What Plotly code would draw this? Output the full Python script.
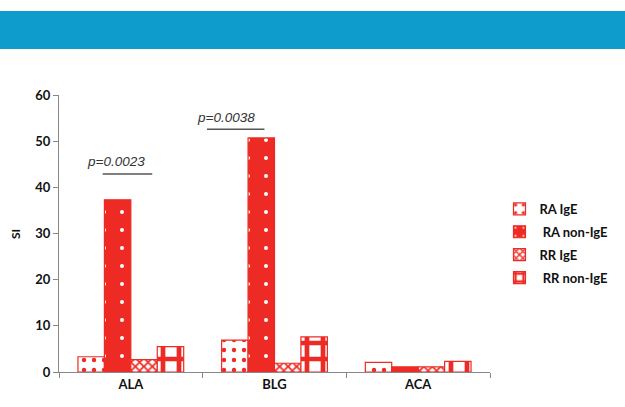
import plotly.graph_objects as go

categories = ["ALA", "BLG", "ACA"]
series_names = ["RA IgE", " RA non-IgE", "RR IgE", " RR non-IgE"]
ra_ige = [3.3, 6.9, 2.1]
ra_non_ige = [37.3, 50.7, 1.1]
rr_ige = [2.7, 1.9, 1.1]
rr_non_ige = [5.5, 7.6, 2.3]
y_ticks = [0, 10, 20, 30, 40, 50, 60]
p_labels = ["p=0.0023", "p=0.0038"]

RED = "#EE2A24"
values = [ra_ige, ra_non_ige, rr_ige, rr_non_ige]
patterns = [
    dict(shape=".", fgcolor=RED, bgcolor="white", size=10, solidity=0.15, fillmode="replace"),
    dict(shape=".", fgcolor="white", bgcolor=RED, size=18, solidity=0.04, fillmode="replace"),
    dict(shape="x", fgcolor=RED, bgcolor="white", size=6, solidity=0.5, fillmode="replace"),
    dict(shape="+", fgcolor=RED, bgcolor="white", size=16, solidity=0.5, fillmode="replace"),
]

fig = go.Figure()
for i, (name, vals, pat) in enumerate(zip(series_names, values, patterns)):
    fig.add_trace(go.Bar(
        x=categories, y=vals, name=name, legendgroup=str(i),
        marker=dict(color="white" if i != 1 else RED, line=dict(color=RED, width=1.2), pattern=pat),
    ))

font = "Lato, 'Open Sans', sans-serif"
bold = dict(family=font, size=13, color="#111", weight="bold")
fig.update_layout(
    width=625, height=407,
    margin=dict(l=59, r=122, t=95, b=35),
    paper_bgcolor="white", plot_bgcolor="white",
    barmode="group", bargap=0.264, bargroupgap=0,
    font=dict(family=font, size=11, color="#111"),
    showlegend=True,
    legend=dict(x=1.022, y=0.643, xanchor="left", yanchor="top", tracegroupgap=3,
                font=dict(family=font, size=13, color="#111", weight="bold"),
                bgcolor="rgba(0,0,0,0)"),
    xaxis=dict(range=[-0.5, 2.5], showline=True, linecolor="#888", linewidth=1.2,
               ticks="outside", tickson="boundaries", ticklen=5, tickcolor="#888",
               tickfont=bold, showgrid=False),
    yaxis=dict(range=[0, 60], tickvals=y_ticks, showline=True, linecolor="#888", linewidth=1.2,
               ticks="outside", ticklen=5, tickcolor="#888", showgrid=False, zeroline=False,
               tickfont=bold),
)

fig.add_annotation(x=-0.101, y=0.5, xref="paper", yref="paper", text="SI", textangle=-90,
                   xanchor="center", yanchor="middle",
                   showarrow=False, font=dict(family=font, size=12, color="#111", weight="bold"))

# Blue header band
fig.add_shape(type="rect", xref="paper", yref="paper", x0=-0.2, x1=1.4, y0=1.166, y1=1.303,
              fillcolor="#0D9CCB", line=dict(width=0), layer="above")

# p-value annotations with lines
fig.add_annotation(x=-0.1, y=45.6, xref="x", yref="y", text="<i>" + p_labels[0] + "</i>",
                   showarrow=False, font=dict(family="Arial, 'Liberation Sans'", size=13.5, color="#333"))
fig.add_shape(type="line", xref="x", yref="y", x0=-0.196, x1=0.149, y0=42.9, y1=42.9,
              line=dict(color="#555", width=1.5))
fig.add_annotation(x=0.66, y=55.2, xref="x", yref="y", text="<i>" + p_labels[1] + "</i>",
                   showarrow=False, font=dict(family="Arial, 'Liberation Sans'", size=13.5, color="#333"))
fig.add_shape(type="line", xref="x", yref="y", x0=0.53, x1=0.93, y0=52.6, y1=52.6,
              line=dict(color="#555", width=1.5))

fig.write_html("out.html")
